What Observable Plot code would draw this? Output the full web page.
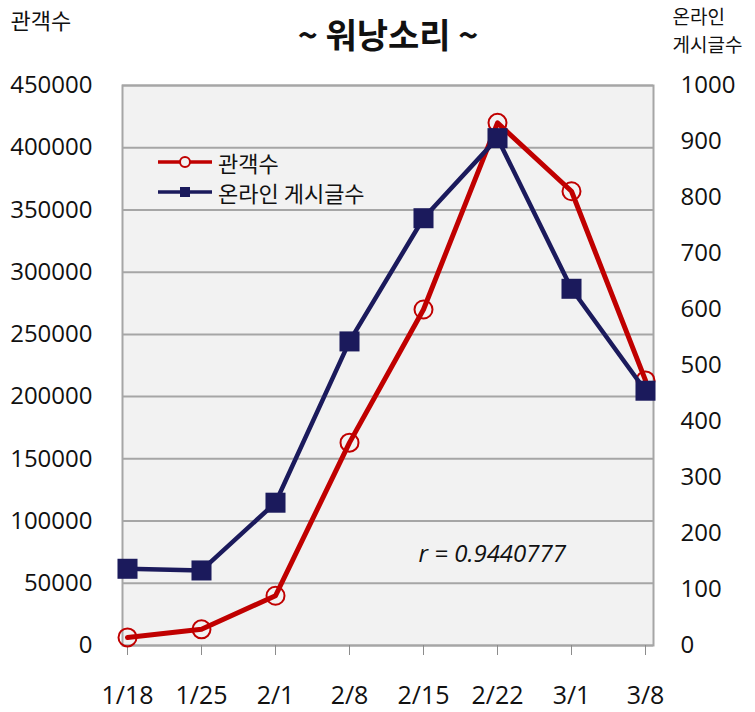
<!DOCTYPE html>
<html>
<head>
<meta charset="utf-8">
<script src="https://cdn.jsdelivr.net/npm/d3@7"></script>
<script src="https://cdn.jsdelivr.net/npm/@observablehq/plot@0.6"></script>
<style>
  html, body { margin: 0; padding: 0; background: #fff; }
  #wrap { position: relative; width: 755px; height: 712px; font-family: "Open Sans", "Noto Sans CJK KR", sans-serif; }
  #legend { position: absolute; left: 156px; top: 147px; font-size: 22px; line-height: 1; color: #111; font-family: "Noto Sans CJK KR", sans-serif; }
  #legend div { display: flex; align-items: center; height: 30px; }
  #legend span { line-height: 1; }
  #legend svg { margin-right: 4px; }
</style>
</head>
<body>
<div id="wrap">
<div id="chart"></div>
<div id="legend">
  <div><svg width="58" height="14"><line x1="2" y1="7" x2="56" y2="7" stroke="#c00000" stroke-width="3.5"/><circle cx="29" cy="7" r="5" fill="#f2f2f2" stroke="#c00000" stroke-width="2"/></svg><span>관객수</span></div>
  <div><svg width="58" height="14"><line x1="2" y1="7" x2="56" y2="7" stroke="#1b1a5c" stroke-width="3.5"/><rect x="24" y="2" width="10" height="10" fill="#1b1a5c"/></svg><span>온라인 게시글수</span></div>
</div>
</div>
<script>
const dates = ["1/18", "1/25", "2/1", "2/8", "2/15", "2/22", "3/1", "3/8"];
const audience = [6500, 13000, 40000, 163000, 270000, 420000, 365000, 213000];
const posts = [137, 134, 255, 543, 763, 906, 637, 455];
const leftTicks = [0, 50000, 100000, 150000, 200000, 250000, 300000, 350000, 400000, 450000];
const rightTicks = [0, 100, 200, 300, 400, 500, 600, 700, 800, 900, 1000];
const title = "~ 워낭소리 ~";
const leftLabel = "관객수";
const rightLabel1 = "온라인";
const rightLabel2 = "게시글수";
const rText = "r = 0.9440777";

const RATIO = 450; // right axis (0–1000) mapped onto left axis (0–450000)
const data = dates.map((d, i) => ({date: d, audience: audience[i], posts: posts[i]}));

const red = "#c00000", navy = "#1b1a5c";
const kr = '"Noto Sans CJK KR", sans-serif';

const chart = Plot.plot({
  width: 755,
  height: 712,
  marginLeft: 122,
  marginRight: 102,
  marginTop: 85,
  marginBottom: 67,
  style: {fontFamily: '"Open Sans", "Noto Sans CJK KR", sans-serif', fontSize: "24px", color: "#111", background: "#fff"},
  x: {type: "point", domain: dates, padding: 0, insetLeft: 5, insetRight: 8},
  y: {domain: [0, 450000]},
  marks: [
    Plot.frame({fill: "#f2f2f2", stroke: "#a6a6a6", strokeWidth: 2}),
    Plot.gridY(leftTicks, {stroke: "#a6a6a6", strokeOpacity: 1, strokeWidth: 2}),
    Plot.axisY({ticks: leftTicks, tickSize: 0, tickPadding: 30, tickFormat: d3.format("d"), label: null, fontSize: 24}),
    Plot.axisY({anchor: "right", ticks: rightTicks.map(v => v * RATIO), tickSize: 0, tickPadding: 27, tickFormat: d => String(Math.round(d / RATIO)), label: null, fontSize: 24}),
    Plot.axisX({tickSize: 10, tickPadding: 31, stroke: "#8c8c8c", label: null, fontSize: 25}),
    Plot.line(data, {x: "date", y: "audience", stroke: red, strokeWidth: 5}),
    Plot.dot(data, {x: "date", y: "audience", r: 9, stroke: red, strokeWidth: 2, fill: "none"}),
    Plot.line(data, {x: "date", y: d => d.posts * RATIO, stroke: navy, strokeWidth: 4.5}),
    Plot.dot(data, {x: "date", y: d => d.posts * RATIO, symbol: "square", r: 11.3, fill: navy, stroke: "none"}),
    Plot.text([rText], {text: d => d, frameAnchor: "bottom-left", dx: 296, dy: -84, textAnchor: "start", fontStyle: "italic", fontSize: 24, fill: "#111"}),
    Plot.text([title], {text: d => d, frameAnchor: "top", dy: -62, fontSize: 34, fontWeight: "bold", fill: "#111", fontFamily: kr}),
    Plot.text([leftLabel], {text: d => d, frameAnchor: "top-left", dx: -112, dy: -72, textAnchor: "start", fontSize: 22, fill: "#111", fontFamily: kr}),
    Plot.text([rightLabel1], {text: d => d, frameAnchor: "top-right", dx: 19, dy: -75, textAnchor: "start", fontSize: 19, fill: "#111", fontFamily: kr}),
    Plot.text([rightLabel2], {text: d => d, frameAnchor: "top-right", dx: 19, dy: -47, textAnchor: "start", fontSize: 19, fill: "#111", fontFamily: kr})
  ]
});
document.getElementById("chart").appendChild(chart);
</script>
</body>
</html>
